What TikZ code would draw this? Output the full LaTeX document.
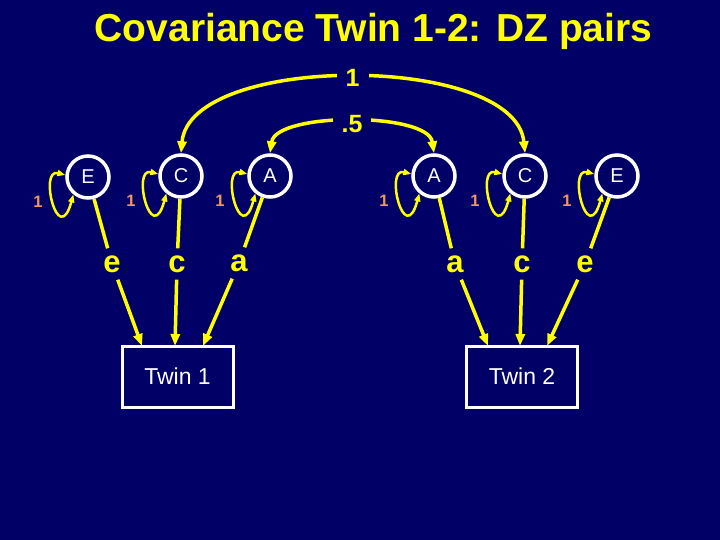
\documentclass[tikz,border=0pt]{standalone}
\usepackage{fontspec}
\setmainfont{Liberation Sans}
\usetikzlibrary{arrows.meta,calc}
\definecolor{bg}{RGB}{0,0,102}
\definecolor{yel}{RGB}{255,255,0}
\definecolor{salmon}{RGB}{240,150,100}
\tikzset{
  lat/.style={circle,draw=white,line width=3.5pt,minimum size=42pt,inner sep=0pt,text=white,font=\fontsize{20}{20}\selectfont},
  lbl/.style={text=yel,font=\bfseries\fontsize{31}{31}\selectfont,inner sep=7pt},
  one/.style={text=salmon,font=\bfseries\fontsize{16.5}{16.5}\selectfont,inner sep=0pt},
  box/.style={draw=white,line width=3pt,minimum width=111pt,minimum height=61pt,text=white,font=\fontsize{23}{23}\selectfont},
  ln/.style={yel,line width=3.5pt},
  arr/.style={yel,line width=3.5pt,-{Triangle[length=12pt,width=9pt]}},
  cov/.style={yel,line width=3.5pt,{Triangle[length=12pt,width=9pt]}-{Triangle[length=12pt,width=9pt]}},
  lp/.style={yel,line width=2.5pt,{Triangle[length=8pt,width=6pt]}-{Triangle[length=8pt,width=6pt]}},
  arclbl/.style={fill=bg,text=yel,font=\bfseries\fontsize{25}{25}\selectfont,inner sep=9pt}
}
\begin{document}
\begin{tikzpicture}[x=1pt,y=-1pt]
\fill[bg] (0,0) rectangle (720,540);
\useasboundingbox (0,0) rectangle (720,540);
\node[anchor=base,text=yel,font=\bfseries\fontsize{39}{39}\selectfont] (title) at (373.5,42) {Covariance Twin 1-2: DZ pairs};
% latent variables
\node[lat] (E1) at (88,177) {E};
\node[lat] (C1) at (181,176) {C};
\node[lat] (A1) at (270,176) {A};
\node[lat] (A2) at (434,176) {A};
\node[lat] (C2) at (525,176) {C};
\node[lat] (E2) at (617,176) {E};
% variance loops
\foreach \n in {E1,C1,A1,A2,C2,E2}{
  \draw[lp] (\n.175) .. controls +(-27,-7) and +(-15,55) .. (\n.230);
  \node[one] (one\n) at ($(\n)+(-50,25)$) {1};
}
% path labels
\node[lbl] (e1) at (112,264) {e};
\node[lbl] (c1) at (177,264) {c};
\node[lbl] (a1) at (239,263) {a};
\node[lbl] (a2) at (455,264) {a};
\node[lbl] (c2) at (522,264) {c};
\node[lbl] (e2) at (585,264) {e};
% boxes
\node[box] (T1) at (177.5,376.5) {Twin 1};
\node[box] (T2) at (522,376.5) {Twin 2};
\coordinate (t1e) at (142,346);
\coordinate (t1c) at (175,346);
\coordinate (t1a) at (203,346);
\coordinate (t2a) at (488,346);
\coordinate (t2c) at (520,346);
\coordinate (t2e) at (547,346);
% latent to path label
\draw[ln] (E1) -- (e1);
\draw[ln] (C1) -- (c1);
\draw[ln] (A1) -- (a1);
\draw[ln] (A2) -- (a2);
\draw[ln] (C2) -- (c2);
\draw[ln] (E2) -- (e2);
% path label to box
\draw[arr] (e1) -- (t1e);
\draw[arr] (c1) -- (t1c);
\draw[arr] (a1) -- (t1a);
\draw[arr] (a2) -- (t2a);
\draw[arr] (c2) -- (t2c);
\draw[arr] (e2) -- (t2e);
% covariances
\draw[cov] (C1.north) .. controls (190,53) and (515,53) .. (C2.north) node[arclbl,pos=0.5] (k1) {1};
\draw[cov] (A1.north) .. controls (276,112) and (428,112) .. (A2.north) node[arclbl,pos=0.5,yshift=-2pt] (k5) {.5};
\end{tikzpicture}
\end{document}
